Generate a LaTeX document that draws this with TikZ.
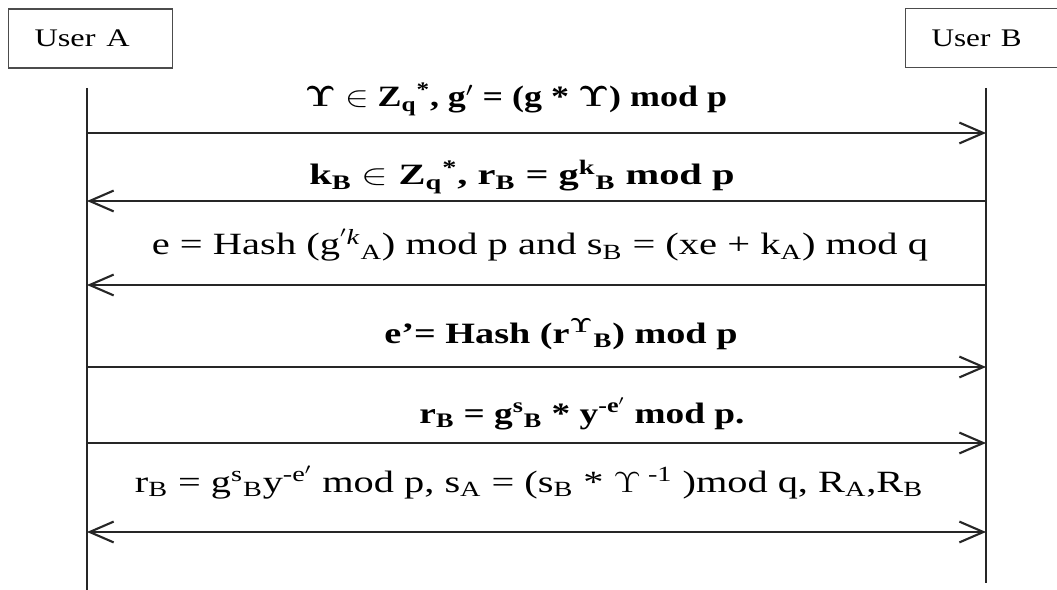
\documentclass[tikz,border=0pt]{standalone}
\usepackage[no-math]{fontspec}
\usepackage{graphicx}
\setmainfont{Liberation Serif}
\usetikzlibrary{arrows.meta}
\newcommand{\lo}[1]{\textsubscript{#1}}
\newcommand{\hi}[1]{\textsuperscript{#1}}
\newcommand{\Ups}{$\mathbf{\Upsilon}$}
\newcommand{\upsn}{$\Upsilon$}
% stretch a label sideways to a given width, keeping its height
\newcommand{\fitto}[2]{\resizebox{#1}{\height}{#2}}
\begin{document}
\begin{tikzpicture}[x=0.025cm, y=-0.025cm,
    actor/.style={rectangle, draw=black!70, thick, anchor=west, align=left, inner xsep=0.65cm,
      minimum height=1.475cm, font=\fontsize{18}{20}\selectfont},
    life/.style={draw=black!85, thick},
    msg/.style={draw=black!85, line width=1.5pt, -{Straight Barb[length=0.6cm, width=0.52cm, line width=1.5pt]}},
    both/.style={msg, {Straight Barb[length=0.6cm, width=0.52cm, line width=1.5pt]}-{Straight Barb[length=0.6cm, width=0.52cm, line width=1.5pt]}},
    lbl/.style={anchor=base, inner sep=0pt, font=\bfseries\fontsize{21}{24}\selectfont},
    lbln/.style={anchor=base, inner sep=0pt, font=\fontsize{22}{25}\selectfont}]
    \useasboundingbox (0,0) rectangle (1057,590);

    % the two parties
    \node (ua) [actor, text width=2.8cm] at (8,38.5) {\fitto{2.375cm}{User A}};
    \node (ub) [actor, text width=3.2cm] at (905,38) {\fitto{2.25cm}{User B}};

    % lifelines
    \coordinate (atop) at (87,88);
    \coordinate (abot) at (87,590);
    \coordinate (btop) at (986,88);
    \coordinate (bbot) at (986,583);
    \draw[life] (atop) -- (abot);
    \draw[life] (btop) -- (bbot);

    % message rows
    \coordinate (a1) at (87,133);  \coordinate (b1) at (986,133);
    \coordinate (a2) at (87,201);  \coordinate (b2) at (986,201);
    \coordinate (a3) at (87,285);  \coordinate (b3) at (986,285);
    \coordinate (a4) at (87,367);  \coordinate (b4) at (986,367);
    \coordinate (a5) at (87,443);  \coordinate (b5) at (986,443);
    \coordinate (a6) at (87,532);  \coordinate (b6) at (986,532);

    \draw[msg] (a1) -- (b1);
    \node (m1) [lbl] at (516,107) {\fitto{10.55cm}{\Ups{} $\in$ Z\lo{q}\hi{*}, g$'$ = (g * \Ups) mod p}};

    \draw[msg] (b2) -- (a2);
    \node (m2) [lbl] at (522,185) {\fitto{10.625cm}{k\lo{B} $\in$ Z\lo{q}\hi{*}, r\lo{B} = g\hi{k}\lo{B} mod p}};

    \draw[msg] (b3) -- (a3);
    \node (m3) [lbln] at (540,255) {\fitto{19.4cm}{e = Hash (g\hi{$'$\textit{k}}\lo{A}) mod p and s\lo{B} = (xe + k\lo{A}) mod q}};

    \draw[msg] (a4) -- (b4);
    \node (m4) [lbl] at (561,343) {\fitto{8.825cm}{e’= Hash (r\hi{\Ups}\lo{B}) mod p}};

    \draw[msg] (a5) -- (b5);
    \node (m5) [lbl] at (582,423) {\fitto{8.125cm}{r\lo{B} = g\hi{s}\lo{B} * y\hi{-e$'$} mod p.}};

    \draw[both] (a6) -- (b6);
    \node (m6) [lbln] at (529,492) {\fitto{19.7cm}{r\lo{B} = g\hi{s}\lo{B}y\hi{-e$'$} mod p, s\lo{A} = (s\lo{B} * \upsn\hi{ -1} )mod q, R\lo{A},R\lo{B}}};
\end{tikzpicture}
\end{document}
